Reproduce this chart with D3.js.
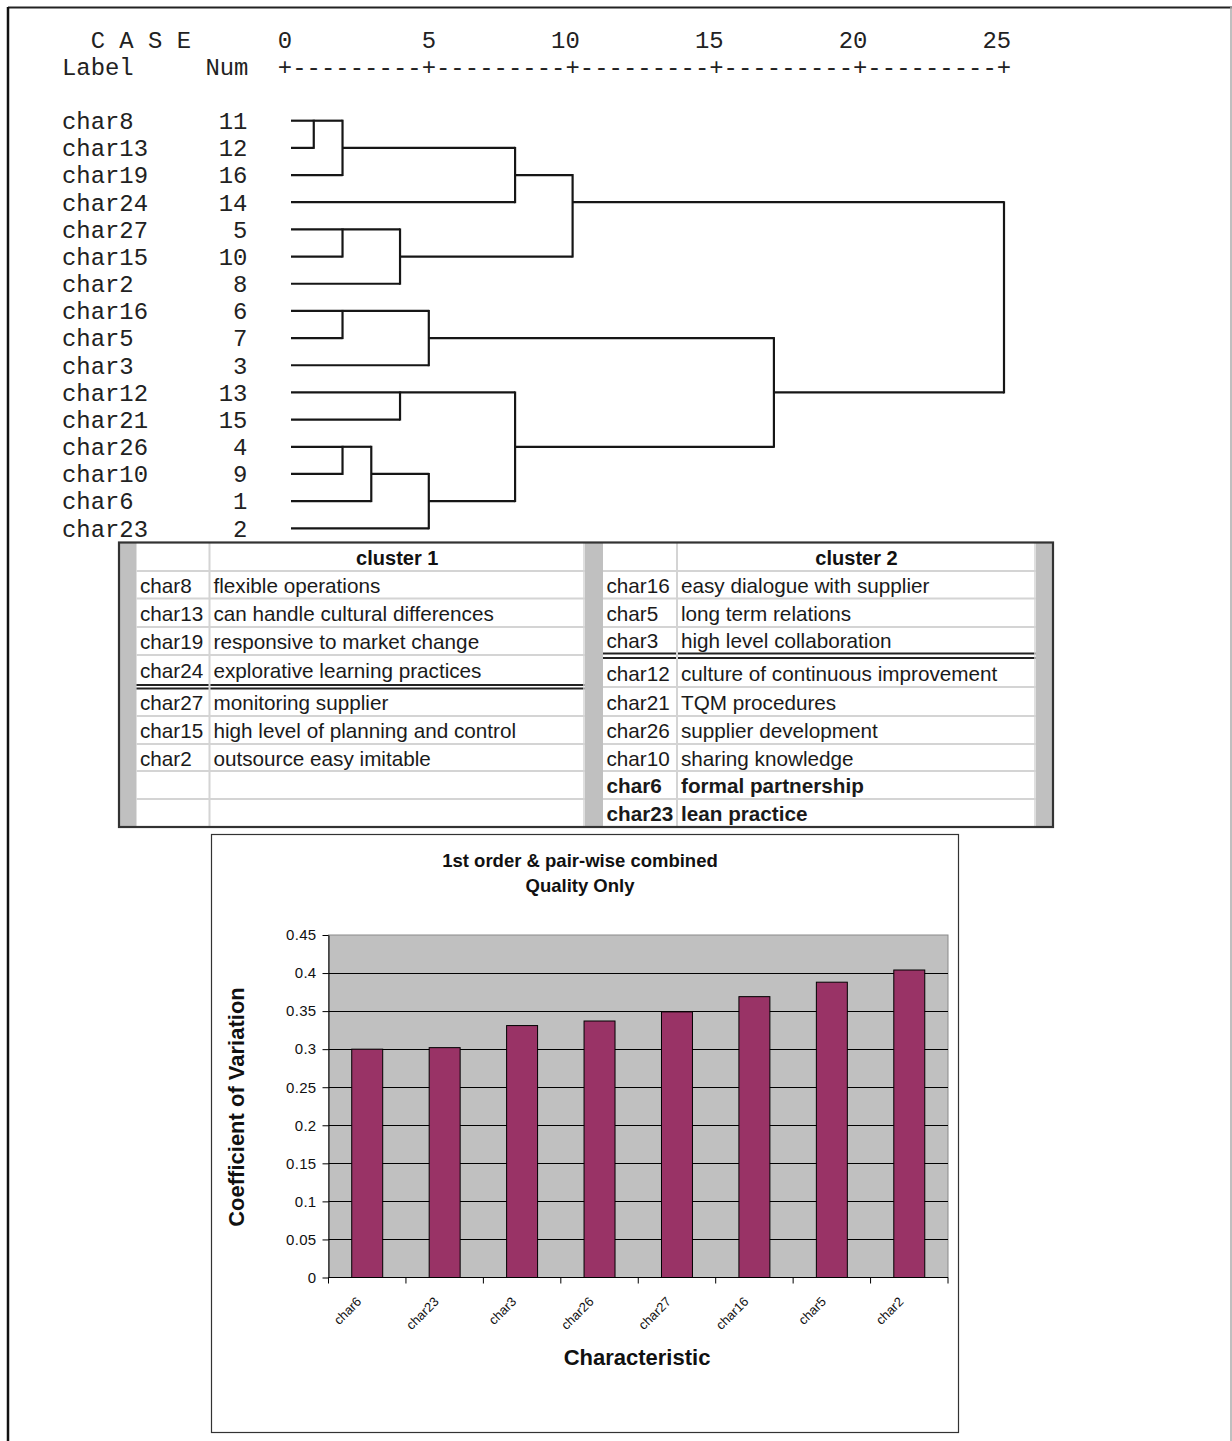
<!DOCTYPE html>
<html>
<head>
<meta charset="utf-8">
<script src="https://cdn.jsdelivr.net/npm/d3@7"></script>
<style>
  html, body { margin: 0; padding: 0; background: #fff; }
  svg { display: block; }
</style>
</head>
<body>
<script>
// ---------------- DATA ----------------
// Dendrogram (SPSS average linkage, rescaled distance)
const leafLabels = ["char8","char13","char19","char24","char27","char15","char2","char16","char5","char3","char12","char21","char26","char10","char6","char23"];
const leafNums   = [11,12,16,14,5,10,8,6,7,3,13,15,4,9,1,2];
const mergeNames = ["A","B","C","D","E","F","G","H","I","J","K","L","M","N","O"];
const mergeLeft  = ["char8","A","B","char27","D","C","char16","G","char12","char26","J","K","I","H","F"];
const mergeRight = ["char13","char19","char24","char15","char2","E","char5","char3","char21","char10","char6","char23","L","M","N"];
const mergeDist  = [1,2,8,2,4,10,2,5,4,2,3,5,8,17,25];
const rulerTicks = [0,5,10,15,20,25];

// Cluster table
const cluster1Codes = ["char8","char13","char19","char24","char27","char15","char2"];
const cluster1Desc  = ["flexible operations","can handle cultural differences","responsive to market change","explorative learning practices","monitoring supplier","high level of planning and control","outsource easy imitable"];
const cluster2Codes = ["char16","char5","char3","char12","char21","char26","char10","char6","char23"];
const cluster2Desc  = ["easy dialogue with supplier","long term relations","high level collaboration","culture of continuous improvement","TQM procedures","supplier development","sharing knowledge","formal partnership","lean practice"];

// Bar chart
const barCategories = ["char6","char23","char3","char26","char27","char16","char5","char2"];
const barValues     = [0.300, 0.302, 0.331, 0.337, 0.349, 0.369, 0.388, 0.404];
const yTickValues   = [0,0.05,0.1,0.15,0.2,0.25,0.3,0.35,0.4,0.45];

// ---------------- DRAW ----------------
const W = 1232, H = 1441;
const MONO = "'Liberation Mono','Courier New',monospace";
const SANS = "'Liberation Sans',Arial,Helvetica,sans-serif";
const svg = d3.select("body").append("svg").attr("width", W).attr("height", H);
svg.append("rect").attr("width", W).attr("height", H).attr("fill", "#fff");

// outer frame
svg.append("line").attr("x1", 8).attr("x2", W).attr("y1", 7.5).attr("y2", 7.5).attr("stroke", "#222").attr("stroke-width", 2);
svg.append("line").attr("x1", 8).attr("x2", 8).attr("y1", 7).attr("y2", H).attr("stroke", "#111").attr("stroke-width", 2.5);
svg.append("line").attr("x1", 1231).attr("x2", 1231).attr("y1", 7).attr("y2", H).attr("stroke", "#aaa").attr("stroke-width", 1.5);

// ---- Dendrogram ----
const fs = 23.9, cw = fs * 0.6, col0 = 62;
const dx = d3.scaleLinear().domain([0, 25]).range([285, 1004]);
const dy = d3.scalePoint().domain(leafLabels).range([120.7, 528.3]);
const rowStep = dy.step();
const textG = svg.append("g").attr("font-family", MONO).attr("font-size", fs).attr("fill", "#222");

textG.append("text").attr("x", col0).attr("y", 40).attr("dy", "0.35em").attr("xml:space", "preserve").text("  C A S E");
textG.append("text").attr("x", col0).attr("y", 67).attr("dy", "0.35em").text("Label");
textG.append("text").attr("x", col0 + 10 * cw).attr("y", 67).attr("dy", "0.35em").text("Num");
rulerTicks.forEach((t, i) => {
  textG.append("text").attr("x", dx(t) + cw / 2).attr("y", 40).attr("dy", "0.35em")
    .attr("text-anchor", "end").text(String(t));
  textG.append("text").attr("x", dx(t)).attr("y", 67).attr("dy", "0.35em")
    .attr("text-anchor", "middle").text("+");
  if (i < rulerTicks.length - 1) {
    const x0 = dx(t) + cw / 2, x1 = dx(rulerTicks[i + 1]) - cw / 2;
    textG.append("text").attr("x", x0).attr("y", 67).attr("dy", "0.35em")
      .attr("textLength", x1 - x0).attr("lengthAdjust", "spacing")
      .text("-".repeat(9));
  }
});
leafLabels.forEach((lab, i) => {
  textG.append("text").attr("x", col0).attr("y", dy(lab)).attr("dy", "0.35em").text(lab);
  textG.append("text").attr("x", col0 + 13 * cw - 1).attr("y", dy(lab)).attr("dy", "0.35em")
    .attr("text-anchor", "end").text(leafNums[i]);
});

// compute node rows and x end positions
const nodeRow = {}, nodeX = {};
leafLabels.forEach((l, i) => { nodeRow[l] = i; nodeX[l] = dx(0) + 6; });
const rowY = r => dy.range()[0] + r * rowStep;
const segs = [];
mergeNames.forEach((m, i) => {
  const a = mergeLeft[i], b = mergeRight[i], xm = dx(mergeDist[i]);
  segs.push([nodeX[a], rowY(nodeRow[a]), xm, rowY(nodeRow[a])]);
  segs.push([nodeX[b], rowY(nodeRow[b]), xm, rowY(nodeRow[b])]);
  segs.push([xm, rowY(nodeRow[a]) - 1, xm, rowY(nodeRow[b]) + 1]);
  nodeRow[m] = Math.floor((nodeRow[a] + nodeRow[b]) / 2);
  nodeX[m] = xm;
});
svg.append("g").attr("stroke", "#161616").attr("stroke-width", 2.2).selectAll("line")
  .data(segs).join("line")
  .attr("x1", d => d[0]).attr("y1", d => d[1]).attr("x2", d => d[2]).attr("y2", d => d[3]);

// ---- Cluster table ----
const tbl = svg.append("g");
const tTop = 542.5, tBot = 827;
tbl.append("rect").attr("x", 119).attr("y", tTop).attr("width", 1053 - 119).attr("height", tBot - tTop)
  .attr("fill", "#fff");
[[119, 136.5], [585, 603], [1036, 1053]].forEach(([a, b]) => {
  tbl.append("rect").attr("x", a).attr("y", tTop).attr("width", b - a).attr("height", tBot - tTop).attr("fill", "#c0c0c0");
});
const panels = [
  { x0: 136.5, x1: 585, xd: 209.5, title: "cluster 1", codes: cluster1Codes, desc: cluster1Desc,
    bounds: [542.5, 571, 598.5, 627, 655, 685, 688.5, 716, 744, 771, 799, 827], dbl: 5 },
  { x0: 603, x1: 1036, xd: 677, title: "cluster 2", codes: cluster2Codes, desc: cluster2Desc,
    bounds: [542.5, 571, 598.5, 627, 653.5, 658, 687, 716, 744, 771, 799, 827], dbl: 4 }
];
const boldCodes = new Set(["char6", "char23"]);
panels.forEach(p => {
  const gl = tbl.append("g");
  p.bounds.forEach((yv, k) => {
    if (k === 0 || k === p.bounds.length - 1) return;
    const dark = (k === p.dbl || k === p.dbl + 1);
    gl.append("line").attr("x1", p.x0).attr("x2", p.x1).attr("y1", yv).attr("y2", yv)
      .attr("stroke", dark ? "#222" : "#d4d4d4").attr("stroke-width", 2);
  });
  gl.append("line").attr("x1", p.xd).attr("x2", p.xd).attr("y1", tTop).attr("y2", tBot)
    .attr("stroke", "#d4d4d4").attr("stroke-width", 2);
  gl.append("line").attr("x1", p.x1 - 1).attr("x2", p.x1 - 1).attr("y1", tTop).attr("y2", tBot)
    .attr("stroke", "#d4d4d4").attr("stroke-width", 1.5);
  const rows = [];
  for (let k = 0; k < p.bounds.length - 1; k++) {
    if (k === p.dbl) continue;
    rows.push([p.bounds[k], p.bounds[k + 1]]);
  }
  tbl.append("text").attr("x", (p.xd + p.x1) / 2).attr("y", (rows[0][0] + rows[0][1]) / 2 + 1)
    .attr("dy", "0.35em").attr("text-anchor", "middle").attr("font-family", SANS)
    .attr("font-size", 20).attr("font-weight", "bold").attr("fill", "#111").text(p.title);
  p.codes.forEach((c, i) => {
    const r = rows[i + 1], yc = (r[0] + r[1]) / 2 + 1;
    const b = boldCodes.has(c);
    tbl.append("text").attr("x", p.x0 + 3.5).attr("y", yc).attr("dy", "0.35em")
      .attr("font-family", SANS).attr("font-size", 20.7).attr("font-weight", b ? "bold" : "normal")
      .attr("fill", "#1a1a1a").text(c);
    tbl.append("text").attr("x", p.xd + 4).attr("y", yc).attr("dy", "0.35em")
      .attr("font-family", SANS).attr("font-size", 20.7).attr("font-weight", b ? "bold" : "normal")
      .attr("fill", "#1a1a1a").text(p.desc[i]);
  });
});
tbl.append("rect").attr("x", 119).attr("y", tTop).attr("width", 1053 - 119).attr("height", tBot - tTop)
  .attr("fill", "none").attr("stroke", "#333").attr("stroke-width", 2.2);

// ---- Bar chart ----
const ch = svg.append("g");
ch.append("rect").attr("x", 211.5).attr("y", 834.5).attr("width", 747).attr("height", 598)
  .attr("fill", "#fff").attr("stroke", "#333").attr("stroke-width", 1.2);
const pL = 328.5, pR = 948, pT = 935, pB = 1277.5;
const xb = d3.scaleBand().domain(barCategories).range([pL, pR]).paddingInner(0.6).paddingOuter(0.3);
const yb = d3.scaleLinear().domain([0, 0.45]).range([pB, pT]);
ch.append("rect").attr("x", pL).attr("y", pT).attr("width", pR - pL).attr("height", pB - pT)
  .attr("fill", "#c0c0c0").attr("stroke", "#8a8a8a").attr("stroke-width", 1);
ch.append("g").selectAll("line").data(yTickValues.filter(v => v > 0 && v < 0.45)).join("line")
  .attr("x1", pL).attr("x2", pR).attr("y1", d => Math.round(yb(d)) + 0.5).attr("y2", d => Math.round(yb(d)) + 0.5)
  .attr("stroke", "#000").attr("stroke-width", 1);
ch.append("g").selectAll("rect").data(barCategories).join("rect")
  .attr("x", d => xb(d)).attr("width", xb.bandwidth())
  .attr("y", (d, i) => yb(barValues[i])).attr("height", (d, i) => pB - yb(barValues[i]))
  .attr("fill", "#993366").attr("stroke", "#000").attr("stroke-width", 1);
const yAxis = d3.axisLeft(yb).tickValues(yTickValues).tickSize(6).tickSizeOuter(0)
  .tickFormat(d => String(+d.toFixed(2)));
const ya = ch.append("g").attr("transform", `translate(${pL},0)`).call(yAxis);
ya.select(".domain").attr("stroke", "#000");
ya.selectAll(".tick line").attr("stroke", "#000");
ya.selectAll(".tick text").attr("font-family", SANS).attr("font-size", 15).attr("fill", "#111")
  .attr("x", -12).attr("letter-spacing", "0.3px");
const step = xb.step();
const bounds = d3.range(barCategories.length + 1).map(i => pL + i * step);
ch.append("line").attr("x1", pL).attr("x2", pR).attr("y1", pB).attr("y2", pB).attr("stroke", "#000");
ch.append("g").selectAll("line").data(bounds).join("line")
  .attr("x1", d => d).attr("x2", d => d).attr("y1", pB).attr("y2", pB + 6).attr("stroke", "#000");
ch.append("g").selectAll("text").data(barCategories).join("text")
  .attr("transform", d => `translate(${xb(d) + xb.bandwidth() / 2 - 5},${pB + 25}) rotate(-45)`)
  .attr("text-anchor", "end").attr("font-family", SANS).attr("font-size", 13).attr("fill", "#111")
  .text(d => d);
ch.append("text").attr("x", 580).attr("y", 861).attr("dy", "0.35em").attr("text-anchor", "middle")
  .attr("font-family", SANS).attr("font-size", 18.5).attr("font-weight", "bold").attr("fill", "#111")
  .text("1st order & pair-wise combined");
ch.append("text").attr("x", 580).attr("y", 886).attr("dy", "0.35em").attr("text-anchor", "middle")
  .attr("font-family", SANS).attr("font-size", 18.5).attr("font-weight", "bold").attr("fill", "#111")
  .text("Quality Only");
ch.append("text").attr("transform", "translate(236,1107) rotate(-90)").attr("dy", "0.35em")
  .attr("text-anchor", "middle").attr("font-family", SANS).attr("font-size", 22).attr("font-weight", "bold")
  .attr("fill", "#111").text("Coefficient of Variation");
ch.append("text").attr("x", 637).attr("y", 1357).attr("dy", "0.35em").attr("text-anchor", "middle")
  .attr("font-family", SANS).attr("font-size", 22).attr("font-weight", "bold").attr("fill", "#111")
  .text("Characteristic");
</script>
</body>
</html>
